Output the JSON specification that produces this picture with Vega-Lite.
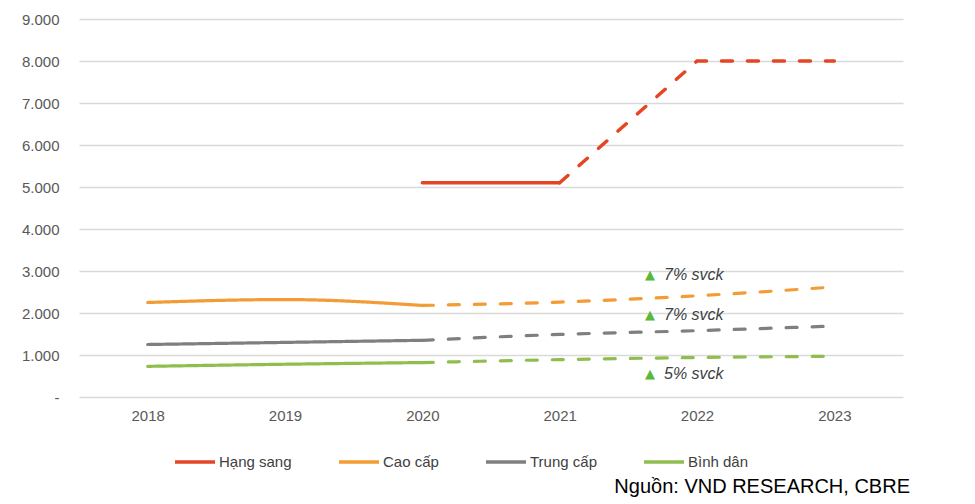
{
  "$schema": "https://vega.github.io/schema/vega-lite/v6.json",
  "width": 824,
  "height": 378,
  "autosize": "none",
  "padding": {"left": 79, "top": 19, "right": 72, "bottom": 107},
  "config": {"view": {"stroke": null}, "font": "Liberation Sans"},
  "title": {
    "text": "Nguồn: VND RESEARCH, CBRE",
    "orient": "bottom",
    "anchor": "end",
    "fontSize": 20,
    "fontWeight": "normal",
    "color": "#000000",
    "font": "Liberation Sans",
    "offset": 7,
    "dx": 7
  },
  "datasets": {
    "series": [
      {"cat": "Hạng sang", "year": "2020", "value": 5100, "part": "actual"},
      {"cat": "Hạng sang", "year": "2021", "value": 5100, "part": "actual"},
      {"cat": "Hạng sang", "year": "2021", "value": 5100, "part": "forecast"},
      {"cat": "Hạng sang", "year": "2022", "value": 8000, "part": "forecast"},
      {"cat": "Hạng sang", "year": "2023", "value": 8000, "part": "forecast"},
      {"cat": "Cao cấp", "year": "2018", "value": 2250, "part": "actual"},
      {"cat": "Cao cấp", "year": "2019", "value": 2320, "part": "actual"},
      {"cat": "Cao cấp", "year": "2020", "value": 2180, "part": "actual"},
      {"cat": "Cao cấp", "year": "2020", "value": 2180, "part": "forecast"},
      {"cat": "Cao cấp", "year": "2021", "value": 2260, "part": "forecast"},
      {"cat": "Cao cấp", "year": "2022", "value": 2410, "part": "forecast"},
      {"cat": "Cao cấp", "year": "2023", "value": 2620, "part": "forecast"},
      {"cat": "Trung cấp", "year": "2018", "value": 1250, "part": "actual"},
      {"cat": "Trung cấp", "year": "2019", "value": 1300, "part": "actual"},
      {"cat": "Trung cấp", "year": "2020", "value": 1350, "part": "actual"},
      {"cat": "Trung cấp", "year": "2020", "value": 1350, "part": "forecast"},
      {"cat": "Trung cấp", "year": "2021", "value": 1490, "part": "forecast"},
      {"cat": "Trung cấp", "year": "2022", "value": 1580, "part": "forecast"},
      {"cat": "Trung cấp", "year": "2023", "value": 1690, "part": "forecast"},
      {"cat": "Bình dân", "year": "2018", "value": 730, "part": "actual"},
      {"cat": "Bình dân", "year": "2019", "value": 780, "part": "actual"},
      {"cat": "Bình dân", "year": "2020", "value": 820, "part": "actual"},
      {"cat": "Bình dân", "year": "2020", "value": 820, "part": "forecast"},
      {"cat": "Bình dân", "year": "2021", "value": 890, "part": "forecast"},
      {"cat": "Bình dân", "year": "2022", "value": 940, "part": "forecast"},
      {"cat": "Bình dân", "year": "2023", "value": 970, "part": "forecast"}
    ],
    "notes": [
      {"year": "2022", "value": 2900, "label": "7% svck"},
      {"year": "2022", "value": 1950, "label": "7% svck"},
      {"year": "2022", "value": 540, "label": "5% svck"}
    ]
  },
  "encoding": {
    "x": {
      "field": "year",
      "type": "ordinal",
      "scale": {"type": "point", "domain": ["2018", "2019", "2020", "2021", "2022", "2023"], "padding": 0.5},
      "axis": {
        "title": null,
        "domain": false,
        "ticks": false,
        "labelAngle": 0,
        "labelFontSize": 15,
        "labelColor": "#595959",
        "labelPadding": 11,
        "grid": false
      }
    },
    "y": {
      "field": "value",
      "type": "quantitative",
      "scale": {"domain": [0, 9000], "nice": false},
      "axis": {
        "title": null,
        "domain": false,
        "ticks": false,
        "values": [0, 1000, 2000, 3000, 4000, 5000, 6000, 7000, 8000, 9000],
        "labelExpr": "datum.value == 0 ? '-' : replace(format(datum.value, ','), ',', '.')",
        "labelFontSize": 15,
        "labelColor": "#595959",
        "labelPadding": 20,
        "gridColor": "#D9D9D9",
        "gridWidth": 1.5
      }
    }
  },
  "layer": [
    {
      "data": {"name": "series"},
      "transform": [{"filter": "datum.cat == 'Hạng sang'"}],
      "mark": {"type": "line", "strokeWidth": 3.5, "strokeCap": "round", "interpolate": "linear"},
      "encoding": {
        "color": {"field": "cat", "type": "nominal", "scale": {"domain": ["Hạng sang", "Cao cấp", "Trung cấp", "Bình dân"], "range": ["#E64525", "#F39B34", "#7F7F7F", "#8FBE4F"]},
          "legend": {
            "title": null,
            "orient": "none",
            "legendX": 94,
            "legendY": 421,
            "direction": "horizontal",
            "symbolType": "stroke",
            "symbolSize": 1600,
            "symbolStrokeWidth": 3.5,
            "labelFontSize": 15,
            "labelColor": "#404040",
            "labelOffset": 2,
            "columnPadding": 40
          }
        },
        "strokeDash": {"field": "part", "type": "nominal", "scale": {"domain": ["actual", "forecast"], "range": [[1, 0], [11, 15]]}, "legend": null}
      }
    },
    {
      "data": {"name": "series"},
      "transform": [{"filter": "datum.cat != 'Hạng sang'"}],
      "mark": {"type": "line", "strokeWidth": 3.2, "strokeCap": "round", "interpolate": "monotone"},
      "encoding": {
        "color": {"field": "cat", "type": "nominal"},
        "strokeDash": {"field": "part", "type": "nominal", "legend": null}
      }
    },
    {
      "data": {"name": "notes"},
      "mark": {"type": "text", "text": "▲", "color": "#5BB83A", "fontSize": 13, "dx": -47, "align": "center", "baseline": "middle", "font": "DejaVu Sans"},
      "encoding": {}
    },
    {
      "data": {"name": "notes"},
      "mark": {"type": "text", "color": "#404040", "fontSize": 16, "fontStyle": "italic", "dx": -33, "align": "left", "baseline": "middle"},
      "encoding": {"text": {"field": "label"}}
    }
  ]
}
